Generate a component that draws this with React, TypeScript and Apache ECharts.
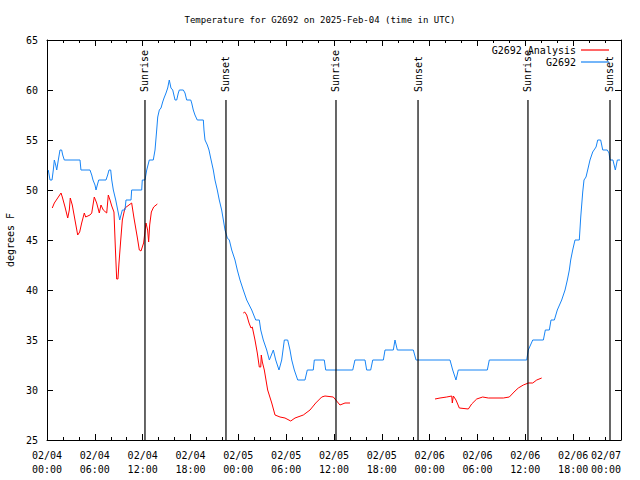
import React, { useEffect, useRef } from "react";
import * as echarts from "echarts";

// hours since 2025-02-04 00:00 UTC
const obsTimes = [0.16,0.38,0.63,0.79,0.92,1.09,1.22,1.32,1.42,1.63,1.84,1.97,2.17,4.14,4.26,5.39,5.61,5.77,6.02,6.15,6.31,6.49,7.40,7.61,7.78,7.99,8.12,8.32,8.62,8.87,9.12,9.28,9.45,9.78,9.91,10.54,10.62,11.88,11.95,12.29,12.51,12.83,13.33,13.55,13.76,13.89,14.09,14.30,14.51,14.68,14.93,15.14,15.34,15.55,15.77,16.06,16.27,16.47,16.60,17.10,17.31,17.52,18.03,18.15,18.35,18.56,18.85,19.61,19.69,19.82,20.11,20.32,20.53,20.86,21.07,21.36,21.61,21.91,22.12,22.33,22.62,22.87,23.17,23.58,23.87,24.21,24.62,25.05,25.68,26.18,26.63,26.81,27.13,27.56,27.89,28.39,28.69,29.10,29.44,29.77,30.19,30.48,30.70,31.02,31.45,32.36,32.65,33.40,33.53,34.78,34.96,38.35,38.63,39.89,40.10,40.60,40.86,42.19,42.40,43.44,43.65,43.94,45.95,46.29,50.55,50.89,51.30,51.59,55.23,55.48,60.17,60.37,60.93,62.26,62.51,63.01,63.22,63.64,64.01,64.56,64.98,65.27,65.52,65.69,65.94,66.23,66.77,66.95,67.20,67.36,67.61,67.82,68.11,68.45,68.87,69.08,69.45,69.71,70.28,70.50,70.62,70.99,71.29,71.54,71.88];
const obsTemps = [52,51,51,52,53,52.5,52,52.5,53,54,54,53.5,53,53,52,52,51.5,51,50.5,50,50.5,51,51,51.5,52,52,51,50,49,48,47,47.5,48,48,49,49,50,50,51,51,52,53,53,54,56,57.3,58,58.2,58.8,59.2,59.7,60.2,61,60.2,60,59,59,59.7,60,60,59.7,59,59,58.7,58,57.5,57,57,56,55,54.5,54,53.2,52,51,50,49,48,47,46,45.2,45,44,43,42,41,40,39,38,37,37,36,35,34,33,34,33,32,33,35,35,34,33,32,31,31,32,32,33,33,32,32,33,33,32,32,33,33,34,34,35,34,34,33,33,32,31,32,32,33,33,34,35,35,36,36,37,37,38,39,40,41,42,43,44,45,45,47.3,49.8,51,51.3,52,53,53.8,54.3,55,55,54,54,53.7,53,53,52,53,53];

// analysis series, null = gap
const anaTimes = [0.66,0.92,1.34,1.76,1.92,2.26,2.60,2.80,2.92,3.17,3.51,3.85,4.10,4.35,4.68,4.85,5.39,5.61,5.93,6.23,6.56,6.77,7.06,7.49,7.69,7.90,8.12,8.40,8.57,8.74,8.90,9.03,9.25,9.45,9.78,10.62,10.91,11.32,11.58,11.79,12.12,12.42,12.62,12.75,12.88,13.09,13.38,13.84,
  13.9,
  24.62,24.80,25.05,25.34,25.59,25.75,26.09,26.38,26.63,26.81,26.88,27.01,27.26,27.68,28.19,28.60,29.23,29.85,30.57,31.11,32.15,32.99,33.71,34.46,34.87,35.91,36.54,36.75,37.38,38.01,
  38.1,
  48.67,49.30,50.14,50.77,50.84,50.97,51.30,51.72,52.85,53.27,53.90,54.65,55.36,57.24,57.99,58.71,59.12,59.75,60.37,60.93,61.43,62.05];
const anaTemps = [48.2,48.7,49.2,49.7,49.3,48.3,47.2,48,49.2,48.5,47,45.5,45.8,46.7,47.7,47.3,47.5,47.7,49.3,48.7,47.7,48.5,48,47.7,49.5,49,48.4,47.8,44.3,41.1,41.1,42.7,45,47,48.2,48.7,47.2,45.3,44,43.9,44.7,46.7,46,44.8,46.5,47.8,48.3,48.6,
  null,
  37.7,37.8,37.5,36.7,36.2,36.3,35,33.7,32.3,32.3,33.5,32.8,32,30,28.7,27.5,27.3,27.2,26.9,27.2,27.5,28,28.7,29.3,29.4,29.3,28.7,28.5,28.7,28.7,
  null,
  29.1,29.2,29.3,29.4,28.7,29.4,29.0,28.2,28.1,28.6,29.1,29.3,29.2,29.2,29.3,29.9,30.2,30.5,30.7,30.7,31.0,31.2];

const sunTimes = [12.29, 22.45, 36.25, 46.54, 60.33, 70.62];
const sunLabels = ["Sunrise", "Sunset", "Sunrise", "Sunset", "Sunrise", "Sunset"];
const sunTop = 59;

const tickDays = ["02/04", "02/05", "02/06", "02/07"];

const FONT = '"DejaVu Sans Mono", monospace';

export default function App() {
  const ref = useRef<HTMLDivElement>(null);
  useEffect(() => {
    if (!ref.current) return;
    const chart = echarts.init(ref.current, undefined, { renderer: "svg" });
    const obsData = obsTimes.map((t, i) => [t, obsTemps[i]]);
    const anaData = anaTimes.map((t, i) => [t, anaTemps[i]]);
    const sunData = sunTimes.map((t) => [t, sunTop]);
    const xLabel = (v: number) => {
      const d = Math.floor(v / 24);
      const h = v - d * 24;
      return tickDays[d] + "\n" + (h < 10 ? "0" : "") + h + ":00";
    };
    const axisCommon = {
      axisLine: { show: true, onZero: false, lineStyle: { color: "#000", width: 1 } },
      splitLine: { show: false },
    };
    const legendCommon = {
      align: "right",
      icon: "rect",
      itemWidth: 28,
      itemHeight: 1.2,
      textStyle: { fontSize: 10, fontFamily: FONT, color: "#000" },
    };
    chart.setOption({
      animation: false,
      backgroundColor: "#fff",
      title: {
        text: "Temperature for G2692 on 2025-Feb-04 (time in UTC)",
        left: "center",
        top: 10,
        textStyle: { fontSize: 9, fontWeight: "normal", fontFamily: FONT, color: "#000" },
      },
      legend: [
        { ...legendCommon, data: ["G2692 Analysis"], right: 26, top: 40 },
        { ...legendCommon, data: ["G2692"], right: 26, top: 52 },
      ],
      grid: { left: 47, right: 19, top: 40, bottom: 40, containLabel: false, outerBoundsMode: "none" },
      xAxis: [
        {
          type: "value",
          min: 0,
          max: 72,
          interval: 6,
          ...axisCommon,
          axisTick: { inside: true, length: 6, lineStyle: { color: "#000" } },
          minorTick: { show: true, splitNumber: 3, length: 3, lineStyle: { color: "#000" } },
          axisLabel: {
            formatter: xLabel,
            fontSize: 10,
            fontFamily: FONT,
            color: "#000",
            lineHeight: 14,
            margin: 8,
            alignMaxLabel: "right",
          },
        },
        {
          type: "value",
          position: "top",
          min: 0,
          max: 72,
          interval: 6,
          ...axisCommon,
          axisTick: { inside: true, length: 6, lineStyle: { color: "#000" } },
          minorTick: { show: true, splitNumber: 3, length: 3, lineStyle: { color: "#000" } },
          axisLabel: { show: false },
        },
      ],
      yAxis: [
        {
          type: "value",
          min: 25,
          max: 65,
          interval: 5,
          name: "degrees F",
          nameLocation: "middle",
          nameRotate: 90,
          nameGap: 31,
          nameTextStyle: { fontSize: 10, fontFamily: FONT, color: "#000" },
          ...axisCommon,
          axisTick: { inside: true, length: 6, lineStyle: { color: "#000" } },
          axisLabel: { fontSize: 10, fontFamily: FONT, color: "#000", margin: 9 },
        },
        {
          type: "value",
          position: "right",
          min: 25,
          max: 65,
          interval: 5,
          ...axisCommon,
          axisTick: { inside: true, length: 6, lineStyle: { color: "#000" } },
          axisLabel: { show: false },
        },
      ],
      series: [
        {
          name: "G2692 Analysis",
          type: "line",
          data: anaData,
          showSymbol: false,
          symbol: "none",
          connectNulls: false,
          color: "#ff0000",
          lineStyle: { color: "#ff0000", width: 1 },
          z: 3,
        },
        {
          name: "G2692",
          type: "line",
          data: obsData,
          showSymbol: false,
          symbol: "none",
          color: "#1784f5",
          lineStyle: { color: "#1784f5", width: 1 },
          z: 3,
        },
        {
          name: "sun",
          type: "custom",
          data: sunData,
          encode: { x: 0, y: 1 },
          z: 4,
          silent: true,
          renderItem: (params: any, api: any) => {
            const t = api.value(0);
            const top = api.coord([t, api.value(1)]);
            const bot = api.coord([t, 25]);
            return {
              type: "group",
              children: [
                {
                  type: "line",
                  shape: { x1: top[0], y1: top[1], x2: bot[0], y2: bot[1] },
                  style: { stroke: "#000", lineWidth: 1.2 },
                },
                {
                  type: "text",
                  x: top[0],
                  y: top[1] - 8,
                  rotation: Math.PI / 2,
                  style: {
                    text: sunLabels[params.dataIndex],
                    fill: "#000",
                    font: '10px "DejaVu Sans Mono", monospace',
                    textAlign: "left",
                    textVerticalAlign: "middle",
                    align: "left",
                    verticalAlign: "middle",
                  },
                },
              ],
            };
          },
        },
      ],
    });
    return () => chart.dispose();
  }, []);
  return (
    <div
      ref={ref}
      style={{ position: "fixed", left: 0, top: 0, width: 640, height: 480, background: "#fff" }}
    />
  );
}
